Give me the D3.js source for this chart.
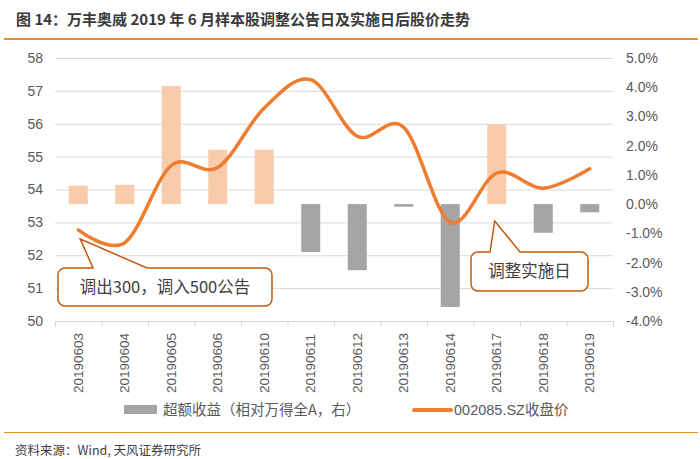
<!DOCTYPE html>
<html>
<head>
<meta charset="utf-8">
<script src="https://cdn.jsdelivr.net/npm/d3@7"></script>
<style>
  body { margin: 0; background: #fff; }
  text { font-family: "Liberation Sans", Arial, "Noto Sans CJK SC", sans-serif; }
  .cjk { font-family: "Noto Sans CJK SC", sans-serif; }
</style>
</head>
<body>
<div id="chart"></div>
<script>
// chart data
var dates = ["20190603", "20190604", "20190605", "20190606", "20190610", "20190611",
             "20190612", "20190613", "20190614", "20190617", "20190618", "20190619"];
var excessReturn = [0.63, 0.66, 4.04, 1.86, 1.86, -1.64, -2.26, -0.09, -3.52, 2.73, -0.98, -0.28];
var closePrice = [52.77, 52.38, 54.73, 54.67, 56.48, 57.34, 55.62, 55.89, 53.0, 54.5, 54.04, 54.63];
var leftTicks = [50, 51, 52, 53, 54, 55, 56, 57, 58];
var rightTicks = [-4, -3, -2, -1, 0, 1, 2, 3, 4, 5];

var svgWidth = 700;
var svgHeight = 459;

var plot = { left: 55, right: 613, top: 58, bottom: 321 };

var svg = d3.select("#chart")
    .append("svg")
    .attr("width", svgWidth)
    .attr("height", svgHeight);

// title
svg.append("text")
    .attr("class", "cjk")
    .attr("x", 16)
    .attr("y", 25)
    .style("font-size", "15px")
    .style("font-weight", "bold")
    .style("fill", "#3a3a3a")
    .text("图 14：万丰奥威 2019 年 6 月样本股调整公告日及实施日后股价走势");

svg.append("line")
    .attr("x1", 4).attr("x2", 698)
    .attr("y1", 39).attr("y2", 39)
    .attr("stroke", "#ED8B2E")
    .attr("stroke-width", 2);

// scales
var x = d3.scaleBand()
    .domain(dates)
    .range([plot.left, plot.right]);

var yLeft = d3.scaleLinear()
    .domain([50, 58])
    .range([plot.bottom, plot.top]);

var yRight = d3.scaleLinear()
    .domain([-4, 5])
    .range([plot.bottom, plot.top]);

// gridlines
svg.append("g")
    .attr("transform", `translate(${plot.left}, 0)`)
    .call(d3.axisLeft(yLeft).tickValues(leftTicks).tickSize(-(plot.right - plot.left)).tickFormat(""))
    .call(g => g.select(".domain").remove())
    .call(g => g.selectAll("line").attr("stroke", "#D9D9D9"));

// left axis labels
svg.append("g")
    .attr("transform", `translate(${plot.left - 12}, 0)`)
    .call(d3.axisLeft(yLeft).tickValues(leftTicks).tickSize(0).tickPadding(0))
    .call(g => g.select(".domain").remove())
    .call(g => g.selectAll("text")
        .style("font-size", "14px")
        .style("fill", "#595959")
        .style("font-family", "Liberation Sans, Arial, sans-serif"));

// right axis labels
svg.append("g")
    .attr("transform", `translate(${plot.right + 13}, 0)`)
    .call(d3.axisRight(yRight).tickValues(rightTicks).tickSize(0).tickPadding(0)
        .tickFormat(d => d.toFixed(1) + "%"))
    .call(g => g.select(".domain").remove())
    .call(g => g.selectAll("text")
        .style("font-size", "14px")
        .style("fill", "#595959")
        .style("font-family", "Liberation Sans, Arial, sans-serif"));

// bars
var barWidth = x.bandwidth() * 0.41;
svg.append("g")
    .selectAll("rect")
    .data(dates)
    .enter()
    .append("rect")
    .attr("x", (d, i) => x(d) + (x.bandwidth() - barWidth) / 2)
    .attr("y", (d, i) => yRight(Math.max(0, excessReturn[i])))
    .attr("width", barWidth)
    .attr("height", (d, i) => Math.abs(yRight(excessReturn[i]) - yRight(0)))
    .attr("fill", (d, i) => excessReturn[i] >= 0 ? "#F8CBAD" : "#A5A5A5");

// bottom axis with ticks between categories
var tickPos = d3.scaleLinear().domain([0, dates.length]).range([plot.left, plot.right]);
svg.append("g")
    .attr("transform", `translate(0, ${plot.bottom})`)
    .call(d3.axisBottom(tickPos).ticks(dates.length).tickSize(6).tickSizeOuter(0).tickFormat(""))
    .call(g => g.select(".domain").attr("stroke", "#D9D9D9"))
    .call(g => g.selectAll(".tick line").attr("stroke", "#D9D9D9"));

svg.append("g")
    .attr("transform", `translate(0, ${plot.bottom})`)
    .call(d3.axisBottom(x).tickSize(0).tickPadding(0))
    .call(g => g.select(".domain").remove())
    .call(g => g.selectAll("text")
        .attr("transform", "rotate(-90)")
        .attr("x", -72)
        .attr("y", 0)
        .attr("dy", "0.35em")
        .style("text-anchor", "start")
        .style("font-size", "13.5px")
        .style("fill", "#595959")
        .style("font-family", "Liberation Sans, Arial, sans-serif"));

// price line
var line = d3.line()
    .x((d, i) => x(dates[i]) + x.bandwidth() / 2)
    .y(d => yLeft(d))
    .curve(d3.curveCardinal.tension(0));

svg.append("path")
    .datum(closePrice)
    .attr("d", line)
    .attr("fill", "none")
    .attr("stroke", "#ED7D31")
    .attr("stroke-width", 3.5)
    .attr("stroke-linecap", "round");

// callouts
function callout(bx, by, bw, bh, tipX, tipY, baseA, baseB, label) {
    var r = 7;
    var p = d3.path();
    p.moveTo(bx + r, by);
    p.lineTo(baseA, by);
    p.lineTo(tipX, tipY);
    p.lineTo(baseB, by);
    p.lineTo(bx + bw - r, by);
    p.arcTo(bx + bw, by, bx + bw, by + r, r);
    p.lineTo(bx + bw, by + bh - r);
    p.arcTo(bx + bw, by + bh, bx + bw - r, by + bh, r);
    p.lineTo(bx + r, by + bh);
    p.arcTo(bx, by + bh, bx, by + bh - r, r);
    p.lineTo(bx, by + r);
    p.arcTo(bx, by, bx + r, by, r);
    p.closePath();
    svg.append("path")
        .attr("d", p.toString())
        .attr("fill", "#fff")
        .attr("stroke", "#C55A11")
        .attr("stroke-width", 1.5);
    svg.append("text")
        .attr("class", "cjk")
        .attr("x", bx + bw / 2)
        .attr("y", by + bh / 2)
        .attr("dy", "0.36em")
        .style("text-anchor", "middle")
        .style("font-size", "16.5px")
        .style("fill", "#404040")
        .text(label);
}

var x0 = x(dates[0]) + x.bandwidth() / 2;
callout(58, 268, 214, 38, x0 + 2, 239, 93, 147, "调出300，调入500公告");
var x9 = x(dates[9]) + x.bandwidth() / 2;
callout(471, 252, 117, 39, x9 - 2, 221, 490, 520, "调整实施日");

// legend
var legend = svg.append("g");
legend.append("rect")
    .attr("x", 124).attr("y", 405)
    .attr("width", 33).attr("height", 9)
    .attr("fill", "#A5A5A5");
legend.append("text")
    .attr("class", "cjk")
    .attr("x", 163).attr("y", 410)
    .attr("dy", "0.36em")
    .style("font-size", "14.5px")
    .style("fill", "#595959")
    .text("超额收益（相对万得全A，右）");
legend.append("line")
    .attr("x1", 414).attr("x2", 451)
    .attr("y1", 410).attr("y2", 410)
    .attr("stroke", "#ED7D31")
    .attr("stroke-width", 4)
    .attr("stroke-linecap", "round");
legend.append("text")
    .attr("x", 454).attr("y", 410)
    .attr("dy", "0.36em")
    .style("font-size", "14.5px")
    .style("fill", "#595959")
    .text("002085.SZ收盘价");

// footer
svg.append("line")
    .attr("x1", 4).attr("x2", 698)
    .attr("y1", 432.5).attr("y2", 432.5)
    .attr("stroke", "#ED8B2E")
    .attr("stroke-width", 1.2);

svg.append("text")
    .attr("class", "cjk")
    .attr("x", 15)
    .attr("y", 450)
    .attr("dy", "0.36em")
    .style("font-size", "12.5px")
    .style("fill", "#404040")
    .text("资料来源：Wind, 天风证券研究所");
</script>
</body>
</html>
